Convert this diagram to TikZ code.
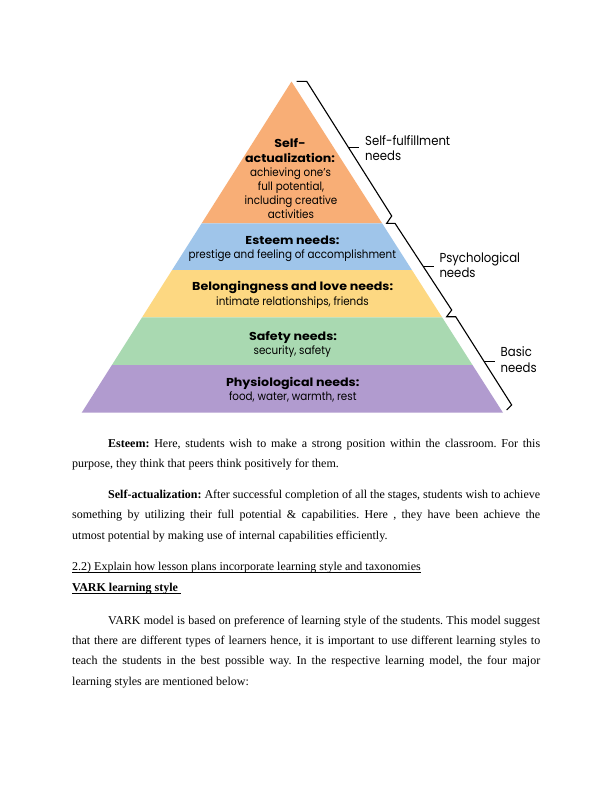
\documentclass[tikz,border=0pt]{standalone}
\usepackage{fontspec}
\setmainfont{Liberation Serif}
\newfontfamily\futr[FakeStretch=0.90]{Poppins}
\newfontfamily\futb[FakeStretch=1.10]{Poppins}
\usetikzlibrary{calc}
\definecolor{cOrange}{RGB}{248,174,118}
\definecolor{cBlue}{RGB}{159,197,234}
\definecolor{cYellow}{RGB}{253,216,130}
\definecolor{cGreen}{RGB}{169,217,177}
\definecolor{cPurple}{RGB}{177,155,207}
\newcommand\myul[1]{\leavevmode\setbox0\hbox{#1}\rlap{\rule[-2.4pt]{\wd0}{0.6pt}}\box0}
\frenchspacing
\begin{document}
\begin{tikzpicture}[x=1pt,y=-1pt,
  ptr/.style={inner sep=0pt,anchor=base,font=\futr\fontsize{11.5}{13}\selectfont},
  ptb/.style={inner sep=0pt,anchor=base,font=\futb\bfseries\fontsize{11.5}{13}\selectfont},
  lab/.style={inner sep=0pt,anchor=base west,font=\futr\fontsize{13}{15}\selectfont},
  brk/.style={draw=black,line width=1.1pt,line join=miter},
  body/.style={inner sep=0pt,anchor=north west,text width=468pt,align=justify,
    font=\frenchspacing\fontsize{12}{20.3}\selectfont},
  head/.style={inner sep=0pt,anchor=base west,font=\frenchspacing\fontsize{12}{14}\selectfont}]
\useasboundingbox (0,0) rectangle (612,792);
\fill[white] (0,0) rectangle (612,792);
% pyramid corners
\coordinate (A) at (291.5,81.5);
\coordinate (L) at (81.7,412.7);
\coordinate (R) at (503,412.7);
\coordinate (l1) at (201.7,223.3); \coordinate (r1) at (382.1,223.3);
\coordinate (l2) at (172.1,270);   \coordinate (r2) at (411.9,270);
\coordinate (l3) at (142.1,317.3); \coordinate (r3) at (442.1,317.3);
\coordinate (l4) at (111.9,365);   \coordinate (r4) at (472.5,365);
\fill[cOrange] (A) -- (r1) -- (l1) -- cycle;
\fill[cBlue] (l1) -- (r1) -- (r2) -- (l2) -- cycle;
\fill[cYellow] (l2) -- (r2) -- (r3) -- (l3) -- cycle;
\fill[cGreen] (l3) -- (r3) -- (r4) -- (l4) -- cycle;
\fill[cPurple] (l4) -- (r4) -- (R) -- (L) -- cycle;
% brackets
\coordinate (b0) at (296.7,81.3);
\coordinate (b1) at (306.7,81.3);
\coordinate (b2) at (391.7,216);
\coordinate (b3) at (386.7,223.3);
\coordinate (b4) at (395,223.3);
\coordinate (b5) at (451.7,310);
\coordinate (b6) at (446.7,316.7);
\coordinate (b7) at (455.7,316.7);
\coordinate (b8) at (511.7,405);
\coordinate (b9) at (506.7,410);
\draw[brk] (b0) -- (b1) -- (b2) -- (b3) -- (b4) -- (b5) -- (b6) -- (b7) -- (b8) -- (b9);
\coordinate (t1) at ($(b1)!0.49!(b2)$);
\coordinate (t2) at ($(b4)!0.5!(b5)$);
\coordinate (t3) at ($(b7)!0.51!(b8)$);
\draw[brk] (t1) -- ++(10.5,0);
\draw[brk] (t2) -- ++(10.5,0);
\draw[brk] (t3) -- ++(10.5,0);
% bracket labels
\node[lab] (sf1) at (365,145) {Self-fulfillment};
\node[lab] (sf2) at (365,160.7) {needs};
\node[lab] (ps1) at (439.3,262) {Psychological};
\node[lab] (ps2) at (439.3,277.3) {needs};
\node[lab] (ba1) at (500.5,356.7) {Basic};
\node[lab] (ba2) at (500.5,372.3) {needs};
% pyramid text
\node[ptb] (s1) at (290,147.3) {Self-};
\node[ptb] (s2) at (290,162) {actualization:};
\node[ptr] (s3) at (290.5,176) {achieving one’s};
\node[ptr] (s4) at (291,190.3) {full potential,};
\node[ptr] (s5) at (291,204.5) {including creative};
\node[ptr] (s6) at (291,218.3) {activities};
\node[ptb] (e1) at (292.5,244) {Esteem needs:};
\node[ptr] (e2) at (292.3,258.3) {prestige and feeling of accomplishment};
\node[ptb] (b1t) at (292.7,290.7) {Belongingness and love needs:};
\node[ptr] (b2t) at (292.5,305) {intimate relationships, friends};
\node[ptb] (f1) at (293,340.7) {Safety needs:};
\node[ptr] (f2) at (292.3,354.5) {security, safety};
\node[ptb] (y1) at (292.7,386.7) {Physiological needs:};
\node[ptr] (y2) at (292.8,400.7) {food, water, warmth, rest};
% body text
\node[body] (p1) at (72,432.8) {\strut\hspace*{36pt}\textbf{Esteem:} Here, students wish to make a strong position within the classroom. For this\linebreak purpose, they think that peers think positively for them.};
\node[body] (p2) at (72,484.1) {\strut\hspace*{36pt}\textbf{Self-actualization:} After successful completion of all the stages, students wish to achieve\linebreak something by utilizing their full potential \& capabilities. Here , they have been achieve the\linebreak utmost potential by making use of internal capabilities efficiently.};
\node[head] (h1) at (72,570) {\myul{2.2) Explain how lesson plans incorporate learning style and taxonomies}};
\node[head] (h2) at (72,591.5) {\myul{\textbf{VARK learning style}\ }};
\node[body] (p3) at (72,609.8) {\strut\hspace*{36pt}VARK model is based on preference of learning style of the students. This model suggest\linebreak that there are different types of learners hence, it is important to use different learning styles to\linebreak teach the students in the best possible way. In the respective learning model, the four major\linebreak learning styles are mentioned below:};
\end{tikzpicture}
\end{document}
